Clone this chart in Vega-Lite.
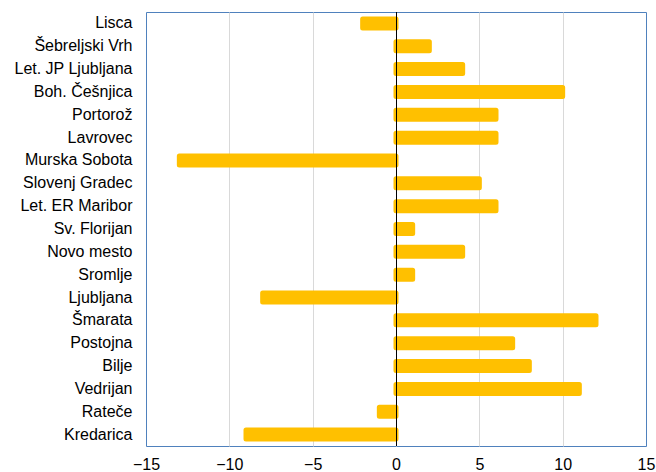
{
  "$schema": "https://vega.github.io/schema/vega-lite/v6.json",
  "width": 500,
  "height": 434,
  "autosize": {"type": "none"},
  "padding": {"left": 146, "top": 12, "right": 10, "bottom": 26},
  "background": "white",
  "config": {
    "view": {"stroke": "#4F81BD", "strokeWidth": 1},
    "font": "Liberation Sans"
  },
  "data": {
    "values": [
      {"station": "Lisca", "value": -2},
      {"station": "Šebreljski Vrh", "value": 2},
      {"station": "Let. JP Ljubljana", "value": 4},
      {"station": "Boh. Češnjica", "value": 10},
      {"station": "Portorož", "value": 6},
      {"station": "Lavrovec", "value": 6},
      {"station": "Murska Sobota", "value": -13},
      {"station": "Slovenj Gradec", "value": 5},
      {"station": "Let. ER Maribor", "value": 6},
      {"station": "Sv. Florijan", "value": 1},
      {"station": "Novo mesto", "value": 4},
      {"station": "Sromlje", "value": 1},
      {"station": "Ljubljana", "value": -8},
      {"station": "Šmarata", "value": 12},
      {"station": "Postojna", "value": 7},
      {"station": "Bilje", "value": 8},
      {"station": "Vedrijan", "value": 11},
      {"station": "Rateče", "value": -1},
      {"station": "Kredarica", "value": -9}
    ]
  },
  "layer": [
    {
      "mark": {"type": "bar", "color": "#FFC000", "stroke": "#FFC000", "strokeWidth": 5, "strokeJoin": "round", "size": 9},
      "encoding": {
        "y": {
          "field": "station",
          "type": "nominal",
          "sort": null,
          "axis": {"title": null, "domain": false, "ticks": false, "labelFontSize": 16, "labelColor": "black", "labelPadding": 14, "labelFont": "Liberation Sans"}
        },
        "x": {
          "field": "value",
          "type": "quantitative",
          "scale": {"domain": [-15, 15], "nice": false, "zero": false},
          "axis": {
            "title": null,
            "values": [-15, -10, -5, 0, 5, 10, 15],
            "domain": false,
            "ticks": false,
            "grid": true,
            "gridColor": {"condition": {"test": "abs(datum.value) == 15", "value": "transparent"}, "value": "#D9D9D9"},
            "gridWidth": 1,
            "labelFontSize": 16,
            "labelColor": "black",
            "labelPadding": 10,
            "labelFont": "Liberation Sans",
            "labelFlush": false
          }
        }
      }
    },
    {
      "mark": {"type": "rule", "color": "black", "strokeWidth": 1, "xOffset": 0.5},
      "encoding": {"x": {"datum": 0}}
    }
  ]
}
